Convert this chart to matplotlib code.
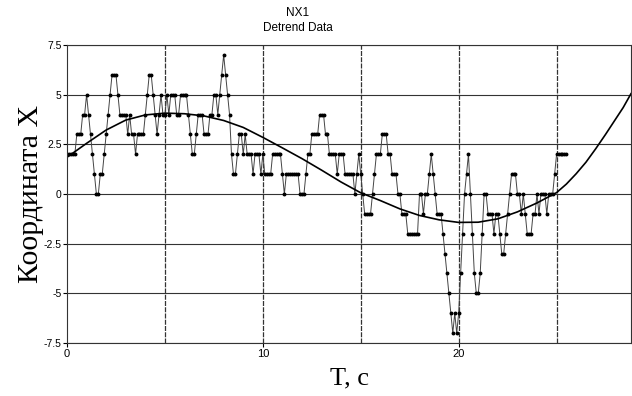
import numpy as np
import matplotlib
matplotlib.use("Agg")
import matplotlib.pyplot as plt

# samples every 0.1 s
dt = 0.1
x_vals = [
    2, 2, 2, 2, 2, 3, 3, 3, 4, 4,            # 0.0 - 0.9
    5, 4, 3, 2, 1, 0, 0, 1, 1, 2,            # 1.0 - 1.9
    3, 4, 5, 6, 6, 6, 5, 4, 4, 4,            # 2.0 - 2.9
    4, 3, 4, 3, 3, 2, 3, 3, 3, 3,            # 3.0 - 3.9
    4, 5, 6, 6, 5, 4, 3, 4, 5, 4,            # 4.0 - 4.9
    4, 5, 4, 5, 5, 5, 4, 4, 5, 5,            # 5.0 - 5.9
    5, 5, 4, 3, 2, 2, 3, 4, 4, 4,            # 6.0 - 6.9
    3, 3, 3, 4, 4, 5, 5, 4, 5, 6,            # 7.0 - 7.9
    7, 6, 5, 4, 2, 1, 1, 2, 3, 3,            # 8.0 - 8.9
    2, 3, 2, 2, 2, 1, 2, 2, 2, 1,            # 9.0 - 9.9
    2, 1, 1, 1, 1, 2, 2, 2, 2, 2,            # 10.0 - 10.9
    1, 0, 1, 1, 1, 1, 1, 1, 1, 0,            # 11.0 - 11.9
    0, 0, 1, 2, 2, 3, 3, 3, 3, 4,            # 12.0 - 12.9
    4, 4, 3, 3, 2, 2, 2, 2, 1, 2,            # 13.0 - 13.9
    2, 2, 1, 1, 1, 1, 1, 0, 1, 2,            # 14.0 - 14.9
    1, 0, -1, -1, -1, -1, 0, 1, 2, 2,        # 15.0 - 15.9
    2, 3, 3, 3, 2, 2, 1, 1, 1, 0,            # 16.0 - 16.9
    0, -1, -1, -1, -2, -2, -2, -2, -2, -2,   # 17.0 - 17.9
    0, 0, -1, 0, 0, 1, 2, 1, 0, -1,          # 18.0 - 18.9
    -1, -1, -2, -3, -4, -5, -6, -7, -6, -7,  # 19.0 - 19.9
    -6, -4, -2, 0, 1, 2, 0, -2, -4, -5,      # 20.0 - 20.9
    -5, -4, -2, 0, 0, -1, -1, -1, -2, -1,    # 21.0 - 21.9
    -1, -2, -3, -3, -2, -1, 0, 1, 1, 1,      # 22.0 - 22.9
    0, 0, -1, 0, -1, -2, -2, -2, -1, -1,     # 23.0 - 23.9
    0, -1, 0, 0, 0, -1, 0, 0, 0, 1,          # 24.0 - 24.9
    2, 2, 2, 2, 2, 2,                        # 25.0 - 25.5
]
t_vals = np.arange(len(x_vals)) * dt

# trend curve
t_trend = [0, 1, 2, 3, 4, 5, 6, 7, 8, 9, 10, 11, 12, 13, 14, 15, 16, 17,
           18, 19, 20, 21, 22, 23, 24, 25, 25.5, 26, 26.5, 27, 27.5, 28,
           28.4, 28.8]
x_trend = [1.85, 2.55, 3.22, 3.72, 3.98, 4.07, 4.04, 3.93, 3.7, 3.35,
           2.85, 2.32, 1.78, 1.2, 0.6, 0.06, -0.33, -0.75, -1.08, -1.3,
           -1.43, -1.42, -1.25, -0.9, -0.45, 0.07, 0.5, 1.02, 1.6, 2.28,
           3.0, 3.75, 4.35, 5.05]

x_ticks = [0, 10, 20]
y_ticks = [-7.5, -5, -2.5, 0, 2.5, 5, 7.5]
y_tick_labels = ["-7.5", "-5", "-2.5", "0", "2.5", "5", "7.5"]

fig = plt.figure(figsize=(6.32, 3.96), dpi=100)
ax = fig.add_axes([67 / 632, 1 - 343 / 396, 564 / 632, 298 / 396])

ax.plot(t_vals, x_vals, "-", color="#444444", lw=0.7,
        marker="o", ms=1.8, mfc="black", mec="black")
ax.plot(t_trend, x_trend, "-", color="black", lw=1.2)

ax.set_xlim(0, 28.8)
ax.set_ylim(-7.5, 7.5)

for yy in y_ticks:
    ax.axhline(yy, color="#333333", lw=0.8, zorder=0)
for xx in [5, 10, 15, 20, 25]:
    ax.axvline(xx, color="#333333", lw=0.9, ls=(0, (4, 1)), zorder=0)

ax.set_xticks(x_ticks)
ax.set_xticklabels([str(v) for v in x_ticks], fontsize=8, family="Liberation Sans")
ax.set_yticks(y_ticks)
ax.set_yticklabels(y_tick_labels, fontsize=7.5, family="Liberation Sans")
ax.tick_params(axis="both", length=3, width=0.8, pad=1)

for s in ax.spines.values():
    s.set_linewidth(0.8)
    s.set_color("#333333")

ax.set_xlabel("T, c", fontsize=19, family="Liberation Serif", labelpad=6.5)
ax.set_ylabel("Координата X", fontsize=21.5, family="Liberation Serif", labelpad=-0.5)

fig.text(298 / 632, 1 - 13 / 396, "NX1", ha="center", va="center",
         fontsize=8.5, family="Liberation Sans")
fig.text(298 / 632, 1 - 28 / 396, "Detrend Data", ha="center", va="center",
         fontsize=8.5, family="Liberation Sans")

fig.savefig("out.png", dpi=100)
